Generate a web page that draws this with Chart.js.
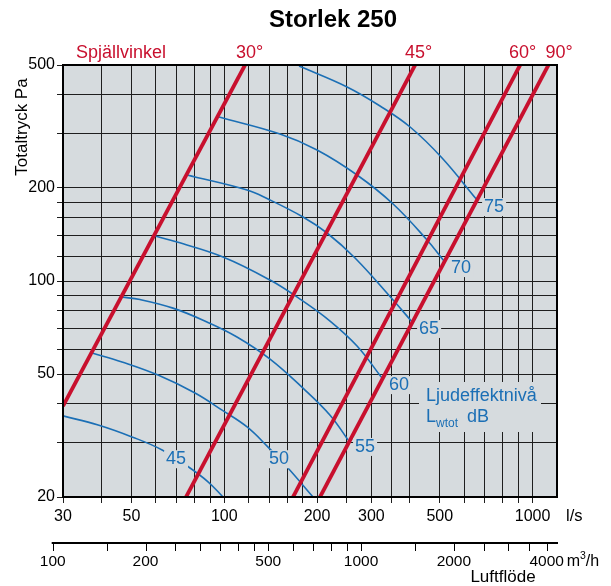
<!DOCTYPE html>
<html>
<head>
<meta charset="utf-8">
<script src="https://cdn.jsdelivr.net/npm/chart.js@4.4.0/dist/chart.umd.min.js"></script>
<style>
  html, body { margin: 0; padding: 0; background: #fff; }
</style>
</head>
<body>
<canvas id="chart" width="611" height="586"></canvas>
<script>
// axlar
const xGrid = [30, 40, 50, 60, 70, 80, 90, 100, 120, 140, 160, 180, 200, 250, 300, 350, 400, 500, 600, 700, 800, 900, 1000];
const xLabels = [30, 50, 100, 200, 300, 500, 1000];
const yGrid = [20, 30, 40, 50, 60, 70, 80, 90, 100, 120, 140, 160, 180, 200, 300, 400, 500];
const yLabels = [20, 50, 100, 200, 500];
const m3hTicks = [100, 150, 200, 250, 300, 350, 400, 450, 500, 600, 700, 800, 900, 1000, 1500, 2000, 2500, 3000, 3500, 4000];
const m3hLabels = [100, 200, 500, 1000, 2000, 4000];

// spjällvinkel: ändpunkter, luftflöde l/s och tryck Pa
const angleNames = ['30°', '45°', '60°', '90°'];
const angleFlow = [[30, 116.8], [75.2, 415.9], [167.2, 911], [204.5, 1125.6]];
const anglePress = [[39.4, 500], [20, 500], [20, 500], [20, 500]];

// ljudeffektnivå Lwtot dB  [l/s, Pa]
const lwLevels = [75, 70, 65, 60, 55, 50, 45];
const lw75 = [[174.8, 496], [250.2, 424.4], [320.1, 368.4], [400.7, 315.0], [508.7, 250.0], [660.7, 182.8]];
const lw70 = [[96.2, 339.4], [151.7, 299.0], [200.0, 265.4], [269.6, 220.3], [352.9, 177.5], [454.8, 135.7], [516.3, 116.0]];
const lw65 = [[75.8, 220.3], [118.6, 197.0], [138.7, 184.2], [180.1, 161.1], [215.5, 143.0], [265.6, 118.7], [352.9, 86.8], [406.7, 73.7]];
const lw60 = [[59.7, 139.8], [70.3, 133.7], [99.1, 119.6], [140.8, 100.7], [176.1, 87.4], [220.4, 74.2], [269.6, 61.6], [325.0, 48.5]];
const lw55 = [[46.6, 88.7], [53.3, 87.1], [68.2, 81.7], [87.9, 73.7], [110.0, 65.9], [140.8, 55.9], [180.1, 45.0], [220.4, 36.8], [252.1, 30.6]];
const lw50 = [[37.3, 58.5], [46.6, 54.7], [61.0, 49.6], [80.4, 43.4], [98.4, 38.2], [118.6, 33.7], [138.7, 29.0], [159.9, 25.0], [194.1, 20]];
const lw45 = [[30, 36.6], [39.0, 34.2], [50.2, 31.3], [62.9, 28.4], [75.8, 25.2], [88.6, 22.4], [99.1, 20]];
const lwCurves = [lw75, lw70, lw65, lw60, lw55, lw50, lw45];
// 50 och 45 har etiketten mitt på kurvan
const lwLabelAt = { 50: [150.5, 26.5], 45: [69.8, 26.5] };

const RED = '#c8102e';
const BLUE = '#1b6fb5';
const BG = '#d6dbde';
const FONT = '"Liberation Sans", Arial, sans-serif';

const datasets = [];
angleFlow.forEach((flow, i) => {
    datasets.push({
        data: flow.map((x, j) => ({ x: x, y: anglePress[i][j] })),
        borderColor: RED,
        borderWidth: 3.8,
        showLine: true,
        pointRadius: 0,
        clip: 0
    });
});
lwCurves.forEach(pts => {
    datasets.push({
        data: pts.map(p => ({ x: p[0], y: p[1] })),
        borderColor: BLUE,
        borderWidth: 1.6,
        showLine: true,
        pointRadius: 0,
        tension: 0.4,
        clip: 0
    });
});

const bgPlugin = {
    id: 'bg',
    beforeDraw(chart) {
        const a = chart.chartArea, ctx = chart.ctx;
        ctx.save();
        ctx.fillStyle = BG;
        ctx.fillRect(a.left, a.top, a.right - a.left, a.bottom - a.top);
        ctx.restore();
    }
};

function labelBox(ctx, text, x, y, align) {
    const w = ctx.measureText(text).width;
    const left = align === 'center' ? x - w / 2 : x;
    ctx.fillStyle = BG;
    ctx.fillRect(left - 2, y - 9, w + 4, 18);
    ctx.fillStyle = BLUE;
    ctx.textAlign = align;
    ctx.fillText(text, x, y);
}

const markPlugin = {
    id: 'marks',
    afterDatasetsDraw(chart) {
        const ctx = chart.ctx, a = chart.chartArea;
        const xs = chart.scales.x, ys = chart.scales.y;
        ctx.save();
        ctx.font = '18px ' + FONT;
        ctx.textBaseline = 'middle';
        lwLevels.forEach((lv, i) => {
            if (lwLabelAt[lv]) {
                const p = lwLabelAt[lv];
                labelBox(ctx, String(lv), xs.getPixelForValue(p[0]), ys.getPixelForValue(p[1]), 'center');
            } else {
                const last = lwCurves[i][lwCurves[i].length - 1];
                labelBox(ctx, String(lv), xs.getPixelForValue(last[0]) + 7, ys.getPixelForValue(last[1]) + 7, 'left');
            }
        });

        // förklaring
        ctx.fillStyle = BG;
        ctx.fillRect(419, 382, 122, 50);
        ctx.fillStyle = BLUE;
        ctx.textAlign = 'left';
        ctx.textBaseline = 'alphabetic';
        ctx.fillText('Ljudeffektnivå', 426, 401);
        ctx.fillText('L', 426, 421.5);
        let lx = 426 + ctx.measureText('L').width;
        ctx.font = '12px ' + FONT;
        ctx.fillText('wtot', lx, 427);
        lx += ctx.measureText('wtot').width;
        ctx.font = '18px ' + FONT;
        ctx.fillText(' dB', lx + 4, 421.5);

        // ram
        ctx.strokeStyle = '#000';
        ctx.lineWidth = 2;
        ctx.strokeRect(a.left, a.top, a.right - a.left, a.bottom - a.top);
        ctx.restore();
    }
};

const textPlugin = {
    id: 'texts',
    afterDraw(chart) {
        const ctx = chart.ctx, a = chart.chartArea;
        const xs = chart.scales.x;
        ctx.save();
        ctx.fillStyle = '#000';
        ctx.textBaseline = 'middle';
        ctx.textAlign = 'center';
        ctx.font = 'bold 24px ' + FONT;
        ctx.fillText('Storlek 250', 333, 20);

        ctx.fillStyle = RED;
        ctx.font = '18px ' + FONT;
        ctx.textAlign = 'left';
        ctx.fillText('Spjällvinkel', 76, 53);
        const offs = [-9, -10, -11, -3];
        angleNames.forEach((n, i) => {
            ctx.fillText(n, xs.getPixelForValue(angleFlow[i][1]) + offs[i], 53);
        });

        // y-axelns titel
        ctx.fillStyle = '#000';
        ctx.save();
        ctx.translate(22, 127);
        ctx.rotate(-Math.PI / 2);
        ctx.textAlign = 'center';
        ctx.font = '17px ' + FONT;
        ctx.fillText('Totaltryck Pa', 0, 0);
        ctx.restore();

        ctx.font = '16.5px ' + FONT;
        ctx.textAlign = 'left';
        ctx.fillText('l/s', 566, 516);

        // andra axeln m³/h
        const lineY = 543;
        ctx.strokeStyle = '#000';
        ctx.lineWidth = 2;
        ctx.beginPath();
        ctx.moveTo(xs.getPixelForValue(m3hTicks[0] / 3.6) - 1, lineY);
        ctx.lineTo(a.right + 1, lineY);
        ctx.stroke();
        ctx.lineWidth = 1;
        m3hTicks.forEach(v => {
            const px = Math.round(xs.getPixelForValue(v / 3.6)) + 0.5;
            ctx.beginPath();
            ctx.moveTo(px, lineY);
            ctx.lineTo(px, lineY + 8);
            ctx.stroke();
        });
        ctx.font = '15.5px ' + FONT;
        ctx.textAlign = 'center';
        m3hLabels.forEach(v => {
            ctx.fillText(String(v), xs.getPixelForValue(v / 3.6), 562);
        });
        ctx.textAlign = 'left';
        let mx = xs.getPixelForValue(4000 / 3.6) + 20;
        ctx.font = '16px ' + FONT;
        ctx.fillText('m', mx, 562);
        mx += ctx.measureText('m').width;
        ctx.font = '10.5px ' + FONT;
        ctx.fillText('3', mx, 556);
        mx += ctx.measureText('3').width;
        ctx.font = '16px ' + FONT;
        ctx.fillText('/h', mx, 562);
        ctx.font = '17px ' + FONT;
        ctx.textAlign = 'center';
        ctx.fillText('Luftflöde', 503, 577);
        ctx.restore();
    }
};

new Chart(document.getElementById('chart').getContext('2d'), {
    type: 'scatter',
    data: { datasets: datasets },
    options: {
        responsive: false,
        animation: false,
        events: [],
        layout: { padding: { top: 65, right: 54, left: 0, bottom: 0 } },
        plugins: {
            legend: { display: false },
            tooltip: { enabled: false },
            title: { display: false }
        },
        scales: {
            x: {
                type: 'logarithmic',
                min: 30,
                max: 1200,
                afterBuildTicks: s => { s.ticks = xGrid.map(v => ({ value: v })); },
                afterFit: s => { s.height = 89; },
                grid: { color: '#1e1e1e', lineWidth: 1, tickLength: 6 },
                border: { display: false },
                ticks: {
                    autoSkip: false,
                    maxRotation: 0,
                    padding: 4,
                    color: '#000',
                    font: { family: FONT, size: 16 },
                    callback: v => xLabels.includes(v) ? String(v) : ''
                }
            },
            y: {
                type: 'logarithmic',
                min: 20,
                max: 500,
                afterBuildTicks: s => { s.ticks = yGrid.map(v => ({ value: v })); },
                afterFit: s => { s.width = 63; },
                grid: { color: '#1e1e1e', lineWidth: 1, tickLength: 6 },
                border: { display: false },
                ticks: {
                    autoSkip: false,
                    padding: 2,
                    color: '#000',
                    font: { family: FONT, size: 16 },
                    callback: v => yLabels.includes(v) ? String(v) : ''
                }
            }
        }
    },
    plugins: [bgPlugin, markPlugin, textPlugin]
});
</script>
</body>
</html>
